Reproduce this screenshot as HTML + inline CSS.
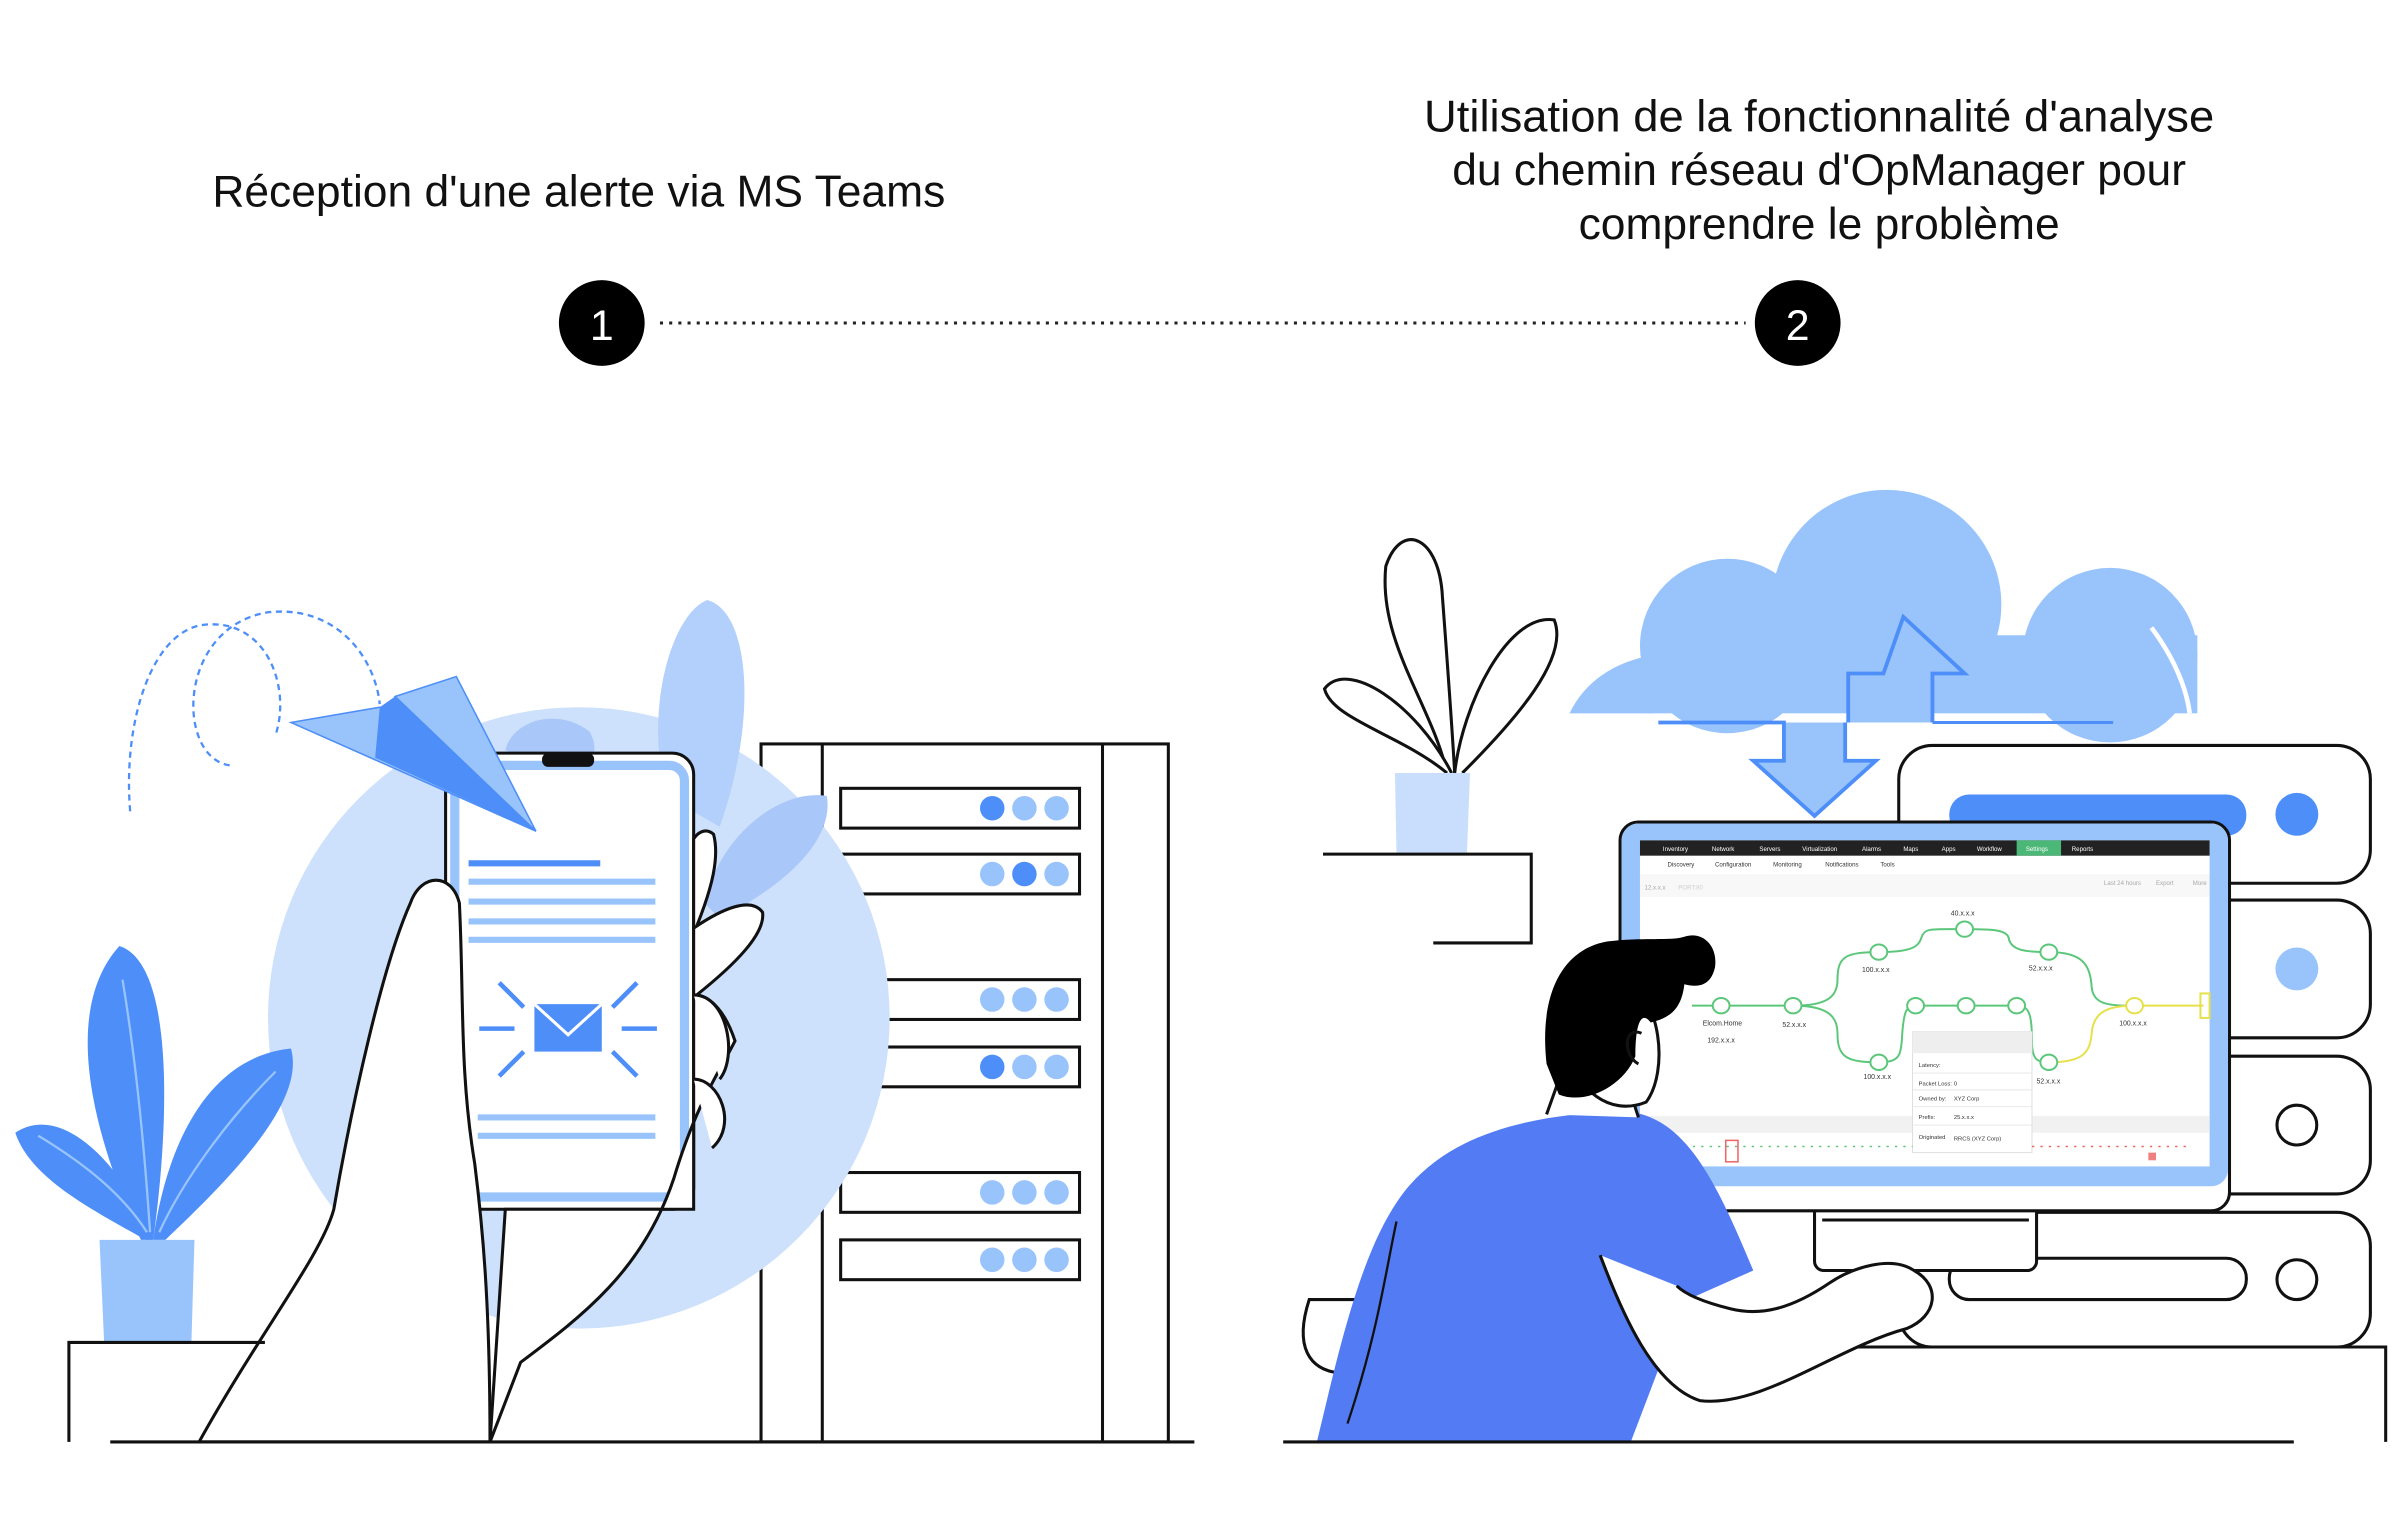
<!DOCTYPE html>
<html><head><meta charset="utf-8"><style>
html,body{margin:0;padding:0;background:#fff;}
svg{display:block;}
text{font-family:"Liberation Sans",sans-serif;}
</style></head><body>
<svg width="2401" height="1520" viewBox="0 0 1568 993" preserveAspectRatio="none" xmlns="http://www.w3.org/2000/svg">
<rect width="1568" height="993" fill="#fff"/>
<!-- headings -->
<text x="378" y="135" font-size="29" text-anchor="middle" fill="#111">Réception d'une alerte via MS Teams</text>
<text x="1188" y="86" font-size="29" text-anchor="middle" fill="#111" textLength="516" lengthAdjust="spacingAndGlyphs">Utilisation de la fonctionnalité d'analyse</text>
<text x="1188" y="121" font-size="29" text-anchor="middle" fill="#111">du chemin réseau d'OpManager pour</text>
<text x="1188" y="156" font-size="29" text-anchor="middle" fill="#111">comprendre le problème</text>
<line x1="431" y1="211" x2="1140" y2="211" stroke="#222" stroke-width="2" stroke-dasharray="2 4"/>
<circle cx="393" cy="211" r="28" fill="#000"/>
<text x="393" y="222" font-size="28" text-anchor="middle" fill="#fff">1</text>
<circle cx="1174" cy="211" r="28" fill="#000"/>
<text x="1174" y="222" font-size="28" text-anchor="middle" fill="#fff">2</text>

<!-- LEFT SCENE -->
<path d="M85 530 C80 470 100 410 135 408 C175 405 190 450 180 480" fill="none" stroke="#4d8ef8" stroke-width="1.5" stroke-dasharray="4 3"/>
<path d="M150 500 C115 495 115 410 175 400 C220 395 245 430 248 460" fill="none" stroke="#4d8ef8" stroke-width="1.5" stroke-dasharray="4 3"/>
<!-- rack -->
<rect x="497" y="486" width="266" height="456" fill="#fff" stroke="#111" stroke-width="2"/>
<line x1="537" y1="486" x2="537" y2="942" stroke="#111" stroke-width="2"/>
<line x1="720" y1="486" x2="720" y2="942" stroke="#111" stroke-width="2"/>
<g stroke="#111" stroke-width="2" fill="#fff">
<rect x="549" y="515" width="156" height="26"/><rect x="549" y="558" width="156" height="26"/>
<rect x="549" y="640" width="156" height="26"/><rect x="549" y="684" width="156" height="26"/>
<rect x="549" y="766" width="156" height="26"/><rect x="549" y="810" width="156" height="26"/>
</g>
<circle cx="378" cy="665" r="203" fill="#cde1fc"/>
<path d="M435 520 C420 460 440 400 462 392 C490 400 495 470 470 540 Z" fill="#b3cffb"/>
<path d="M330 490 C335 470 365 462 385 478 C395 495 380 510 360 505 Z" fill="#a9c8f9"/>
<path d="M460 590 C470 545 510 515 540 520 C545 550 510 580 470 600 Z" fill="#a9c8f9"/>
<g fill="#99c4fb">
<circle cx="669" cy="528" r="8"/><circle cx="690" cy="528" r="8"/>
<circle cx="648" cy="571" r="8"/><circle cx="690" cy="571" r="8"/>
<circle cx="648" cy="653" r="8"/><circle cx="669" cy="653" r="8"/><circle cx="690" cy="653" r="8"/>
<circle cx="669" cy="697" r="8"/><circle cx="690" cy="697" r="8"/>
<circle cx="648" cy="779" r="8"/><circle cx="669" cy="779" r="8"/><circle cx="690" cy="779" r="8"/>
<circle cx="648" cy="823" r="8"/><circle cx="669" cy="823" r="8"/><circle cx="690" cy="823" r="8"/>
</g>
<g fill="#4d8ef8"><circle cx="648" cy="528" r="8"/><circle cx="669" cy="571" r="8"/><circle cx="648" cy="697" r="8"/></g>
<!-- phone -->
<rect x="291" y="492" width="162" height="298" rx="14" fill="#fff" stroke="#111" stroke-width="2"/>
<rect x="297" y="500" width="150" height="282" rx="10" fill="#fff" stroke="#99c4fb" stroke-width="6"/>
<rect x="354" y="492" width="34" height="9" rx="4" fill="#111"/>
<g stroke="#99c4fb" stroke-width="4">
<line x1="306" y1="564" x2="392" y2="564" stroke="#4d8ef8"/>
<line x1="306" y1="576" x2="428" y2="576"/><line x1="306" y1="589" x2="428" y2="589"/>
<line x1="306" y1="602" x2="428" y2="602"/><line x1="306" y1="614" x2="428" y2="614"/>
<line x1="312" y1="730" x2="428" y2="730"/><line x1="312" y1="742" x2="428" y2="742"/>
</g>
<rect x="349" y="656" width="44" height="31" fill="#4d8ef8"/>
<path d="M349 656 L371 676 L393 656" fill="none" stroke="#fff" stroke-width="2"/>
<g stroke="#4d8ef8" stroke-width="3">
<line x1="313" y1="672" x2="336" y2="672"/><line x1="406" y1="672" x2="429" y2="672"/>
<line x1="326" y1="642" x2="342" y2="658"/><line x1="416" y1="642" x2="400" y2="658"/>
<line x1="326" y1="703" x2="342" y2="687"/><line x1="416" y1="703" x2="400" y2="687"/>
</g>
<!-- plane -->
<path d="M190 472 L248 462 L350 543 Z" fill="#99c4fb" stroke="#4d8ef8" stroke-width="1"/>
<path d="M248 462 L258 455 L350 543 Z" fill="#4d8ef8"/>
<path d="M258 455 L298 442 L350 543 Z" fill="#99c4fb" stroke="#4d8ef8"/>
<path d="M248 462 L245 495 L350 543 Z" fill="#4d8ef8"/>
<!-- hand -->
<path d="M130 942 C170 870 210 820 218 790 C230 720 250 630 268 590 C275 570 295 570 300 590 C303 650 300 700 310 760 C315 800 320 850 320 942 Z" fill="#fff" stroke="#111" stroke-width="2"/>
<path d="M320 942 L340 890 C380 860 420 830 440 770 C455 720 470 700 480 680 C470 650 455 650 455 650 C480 630 500 610 498 596 C490 585 470 595 455 605 C465 580 470 560 466 545 C460 540 455 545 453 548 L453 790 L330 790 Z" fill="#fff" stroke="#111" stroke-width="2"/>
<path d="M453 650 C475 650 482 690 470 705 M453 705 C470 705 482 735 465 750" fill="#fff" stroke="#111" stroke-width="2"/>
<!-- left plant -->
<path d="M92 810 C60 740 40 660 78 618 C115 630 110 740 100 810 Z" fill="#4d8ef8"/>
<path d="M100 810 C110 740 140 690 190 685 C200 720 150 770 108 810 Z" fill="#4d8ef8"/>
<path d="M95 810 C60 790 20 770 10 740 C40 720 80 760 100 810 Z" fill="#4d8ef8"/>
<path d="M80 640 C90 700 95 760 98 805 M180 700 C150 730 120 770 104 805 M25 742 C55 760 80 780 96 805" fill="none" stroke="#99c4fb" stroke-width="1.5"/>
<path d="M65 810 L127 810 L125 877 L68 877 Z" fill="#99c4fb"/>
<path d="M173 877 L45 877 L45 942" fill="none" stroke="#111" stroke-width="2"/>
<line x1="72" y1="942" x2="780" y2="942" stroke="#111" stroke-width="2"/>

<!-- RIGHT SCENE -->
<g fill="#fff" stroke="#111" stroke-width="2">
<rect x="1240" y="487" width="308" height="90" rx="22"/>
<rect x="1240" y="588" width="308" height="90" rx="22"/>
<rect x="1240" y="690" width="308" height="90" rx="22"/>
<rect x="1240" y="792" width="308" height="88" rx="22"/>
</g>
<rect x="1273" y="519" width="194" height="27" rx="13" fill="#4d8ef8"/>
<circle cx="1500" cy="532" r="14" fill="#4d8ef8"/>
<circle cx="1500" cy="633" r="14" fill="#99c4fb"/>
<circle cx="1500" cy="735" r="13" fill="#fff" stroke="#111" stroke-width="2"/>
<circle cx="1500" cy="836" r="13" fill="#fff" stroke="#111" stroke-width="2"/>
<rect x="1273" y="822" width="194" height="27" rx="13" fill="#fff" stroke="#111" stroke-width="2"/>
<path d="M1200 880 L1558 880 L1558 942" fill="none" stroke="#111" stroke-width="2"/>
<!-- cloud -->
<g fill="#99c4fb">
<circle cx="1232" cy="395" r="75"/><circle cx="1128" cy="422" r="57"/><circle cx="1378" cy="428" r="57"/>
<rect x="1075" y="415" width="360" height="51"/>
<path d="M1025 466 C1035 445 1055 432 1080 428 L1080 466 Z"/>
</g>
<path d="M1405 410 C1420 430 1428 450 1430 466" fill="none" stroke="#fff" stroke-width="3"/>
<path d="M1207 472 L1207 440 L1230 440 L1243 403 L1283 440 L1262 440 L1262 472 M1083 472 L1140 472 L1165 472 L1165 497 L1145 497 L1185 533 L1225 497 L1205 497 L1205 472" fill="#99c4fb" stroke="#4d8ef8" stroke-width="2.5"/>
<path d="M1262 472 L1380 472" stroke="#4d8ef8" stroke-width="2"/>
<!-- plant right -->
<path d="M945 505 C935 460 900 420 905 370 C915 340 940 350 942 390 C945 430 948 470 950 505" fill="#fff" stroke="#111" stroke-width="2"/>
<path d="M950 505 C955 460 985 400 1015 405 C1025 430 990 470 955 505" fill="#fff" stroke="#111" stroke-width="2"/>
<path d="M945 505 C915 480 870 470 865 450 C880 430 925 460 948 505" fill="#fff" stroke="#111" stroke-width="2"/>
<path d="M911 505 L960 505 L958 558 L912 558 Z" fill="#c9defc"/>
<path d="M864 558 L1000 558 L1000 616 L936 616" fill="none" stroke="#111" stroke-width="2"/>
<!-- monitor -->
<rect x="1185" y="780" width="145" height="50" rx="6" fill="#fff" stroke="#111" stroke-width="2"/>
<line x1="1190" y1="797" x2="1325" y2="797" stroke="#111" stroke-width="2"/>
<rect x="1058" y="537" width="398" height="254" rx="12" fill="#fff" stroke="#111" stroke-width="2"/>
<rect x="1059" y="538" width="396" height="237" rx="11" fill="#99c4fb"/>
<rect x="1071" y="549" width="372" height="213" fill="#fff"/>
<rect x="1071" y="549" width="372" height="10" fill="#222"/>
<rect x="1317" y="549" width="29" height="10" fill="#4cb877"/>
<g font-size="4" fill="#fff">
<text x="1086" y="556">Inventory</text><text x="1118" y="556">Network</text><text x="1149" y="556">Servers</text><text x="1177" y="556">Virtualization</text><text x="1216" y="556">Alarms</text><text x="1243" y="556">Maps</text><text x="1268" y="556">Apps</text><text x="1291" y="556">Workflow</text><text x="1323" y="556">Settings</text><text x="1353" y="556">Reports</text>
</g>
<g font-size="4" fill="#333">
<text x="1089" y="566">Discovery</text><text x="1120" y="566">Configuration</text><text x="1158" y="566">Monitoring</text><text x="1192" y="566">Notifications</text><text x="1228" y="566">Tools</text>
<text x="1074" y="581">12.x.x.x</text><text x="1096" y="581" fill="#999">PORT:80</text>
<text x="1374" y="578">Last 24 hours</text><text x="1408" y="578">Export</text><text x="1432" y="578">More</text>
</g>
<rect x="1071" y="571" width="372" height="15" fill="#f4f4f5" opacity="0.6"/>
<rect x="1071" y="729" width="372" height="11" fill="#f1f1f2"/>
<g fill="none" stroke="#5cc77a" stroke-width="1.3">
<path d="M1105 657 L1171 657 C1195 657 1200 650 1200 640 C1200 625 1205 622 1227 622 C1250 622 1253 618 1255 612 C1257 606 1262 607 1283 607 C1300 607 1312 607 1312 614 C1314 620 1320 622 1338 622 C1360 622 1365 630 1366 645 C1367 655 1375 657 1390 657"/>
<path d="M1171 657 C1195 657 1200 665 1200 675 C1200 690 1205 694 1227 694 C1240 694 1241 690 1242 680 C1243 660 1245 657 1251 657 L1317 657 C1325 657 1327 662 1327 680 C1327 692 1330 694 1338 694"/>
</g>
<path d="M1338 694 C1360 694 1365 688 1366 675 C1367 662 1375 657 1394 657 L1439 657" fill="none" stroke="#e6e04a" stroke-width="1.3"/>
<rect x="1437" y="649" width="6" height="16" fill="none" stroke="#e6e04a" stroke-width="1.3"/>
<g fill="#fff" stroke="#5cc77a" stroke-width="1.3">
<ellipse cx="1124" cy="657" rx="5.5" ry="5"/><ellipse cx="1171" cy="657" rx="5.5" ry="5"/>
<ellipse cx="1227" cy="622" rx="5.5" ry="5"/><ellipse cx="1283" cy="607" rx="5.5" ry="5"/>
<ellipse cx="1338" cy="622" rx="5.5" ry="5"/><ellipse cx="1227" cy="694" rx="5.5" ry="5"/>
<ellipse cx="1251" cy="657" rx="5.5" ry="5"/><ellipse cx="1284" cy="657" rx="5.5" ry="5"/>
<ellipse cx="1317" cy="657" rx="5.5" ry="5"/><ellipse cx="1338" cy="694" rx="5.5" ry="5"/>
<ellipse cx="1394" cy="657" rx="5.5" ry="5" stroke="#e6e04a"/>
</g>
<g font-size="4.5" fill="#333">
<text x="1112" y="670">Elcom.Home</text><text x="1115" y="681">192.x.x.x</text>
<text x="1164" y="671">52.x.x.x</text><text x="1216" y="635">100.x.x.x</text><text x="1274" y="598">40.x.x.x</text>
<text x="1325" y="634">52.x.x.x</text><text x="1384" y="670">100.x.x.x</text><text x="1217" y="705">100.x.x.x</text><text x="1330" y="708">52.x.x.x</text>
</g>
<rect x="1249" y="674" width="78" height="79" fill="#fff" stroke="#ddd" stroke-width="0.6"/>
<rect x="1249" y="674" width="78" height="14" fill="#eee"/>
<g stroke="#e5e5e5" stroke-width="0.6"><line x1="1249" y1="701" x2="1327" y2="701"/><line x1="1249" y1="712" x2="1327" y2="712"/><line x1="1249" y1="723" x2="1327" y2="723"/><line x1="1249" y1="735" x2="1327" y2="735"/></g>
<g font-size="3.8" fill="#333">
<text x="1253" y="697">Latency:</text><text x="1253" y="709">Packet Loss:</text><text x="1276" y="709">0</text>
<text x="1253" y="719">Owned by:</text><text x="1276" y="719">XYZ Corp</text>
<text x="1253" y="731">Prefix:</text><text x="1276" y="731">25.x.x.x</text>
<text x="1253" y="744">Originated</text><text x="1276" y="745">RRCS (XYZ Corp)</text>
</g>
<line x1="1100" y1="749" x2="1249" y2="749" stroke="#5cc77a" stroke-width="1" stroke-dasharray="1.5 4"/>
<line x1="1327" y1="749" x2="1430" y2="749" stroke="#e66" stroke-width="1" stroke-dasharray="1.5 4"/>
<rect x="1127" y="745" width="8" height="14" fill="none" stroke="#e66" stroke-width="1"/>
<rect x="1403" y="753" width="5" height="5" fill="#f08080"/>
<!-- person -->
<path d="M855 849 C845 880 855 895 875 897 L900 897 L905 849 Z" fill="#fff" stroke="#111" stroke-width="2"/>
<path d="M860 942 C875 880 890 810 920 775 C950 740 1000 728 1060 726 C1100 728 1120 770 1145 830 L1100 850 L1065 942 Z" fill="#527bf4"/>
<path d="M1045 820 C1060 860 1080 905 1110 915 C1150 920 1200 880 1245 868 C1265 860 1268 840 1250 830 C1235 820 1210 828 1195 838 C1170 855 1150 860 1130 855 C1110 850 1100 845 1095 840" fill="#fff" stroke="#111" stroke-width="2"/>
<path d="M912 798 C905 830 900 870 880 930" fill="none" stroke="#111" stroke-width="1.5"/>
<path d="M1010 728 L1020 700 L1062 705 L1070 730" fill="#fff" stroke="#111" stroke-width="2"/>
<path d="M1060 640 C1085 650 1090 700 1075 720 C1050 730 1030 710 1025 690 Z" fill="#fff" stroke="#111" stroke-width="2"/>
<path d="M1010 695 C1005 650 1020 620 1050 615 C1075 612 1090 615 1100 612 C1112 608 1122 618 1120 632 C1117 645 1108 645 1100 643 C1098 660 1090 665 1078 668 C1072 660 1068 668 1068 690 C1060 710 1035 722 1018 715 Z" fill="#000"/>
<path d="M1072 675 C1060 670 1060 690 1070 695" fill="none" stroke="#111" stroke-width="2"/>
<line x1="838" y1="942" x2="1498" y2="942" stroke="#111" stroke-width="2"/>
</svg>
</body></html>
